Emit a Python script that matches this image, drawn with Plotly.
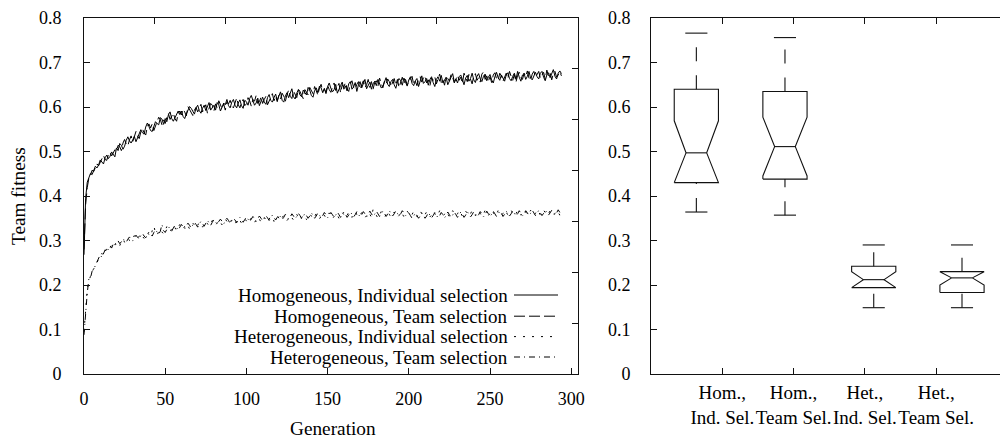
import plotly.graph_objects as go

# ---------------- data ----------------
generations = list(range(0, 295))

hom_ind = [
    0.268, 0.395, 0.431, 0.442, 0.451, 0.448, 0.460, 0.467, 0.463, 0.470,
    0.481, 0.476, 0.472, 0.486, 0.492, 0.484, 0.489, 0.499, 0.494, 0.488,
    0.508, 0.502, 0.518, 0.514, 0.505, 0.512, 0.525, 0.533, 0.524, 0.519,
    0.526, 0.534, 0.522, 0.532, 0.543, 0.549, 0.542, 0.539, 0.555, 0.564,
    0.556, 0.547, 0.545, 0.557, 0.567, 0.563, 0.560, 0.576, 0.573, 0.561,
    0.574, 0.567, 0.583, 0.589, 0.574, 0.568, 0.575, 0.585, 0.591, 0.583,
    0.591, 0.579, 0.574, 0.584, 0.592, 0.601, 0.597, 0.589, 0.584, 0.598,
    0.604, 0.592, 0.586, 0.597, 0.604, 0.592, 0.600, 0.610, 0.593, 0.599,
    0.604, 0.593, 0.610, 0.605, 0.591, 0.599, 0.609, 0.605, 0.617, 0.603,
    0.598, 0.611, 0.617, 0.604, 0.598, 0.609, 0.616, 0.603, 0.597, 0.615,
    0.612, 0.604, 0.619, 0.626, 0.613, 0.604, 0.609, 0.620, 0.603, 0.615,
    0.622, 0.611, 0.606, 0.621, 0.628, 0.615, 0.611, 0.621, 0.629, 0.615,
    0.624, 0.634, 0.615, 0.611, 0.625, 0.632, 0.621, 0.631, 0.641, 0.623,
    0.618, 0.631, 0.639, 0.627, 0.623, 0.638, 0.632, 0.627, 0.644, 0.638,
    0.626, 0.622, 0.637, 0.643, 0.632, 0.647, 0.643, 0.632, 0.642, 0.630,
    0.646, 0.654, 0.642, 0.634, 0.639, 0.651, 0.631, 0.641, 0.648, 0.656,
    0.640, 0.647, 0.636, 0.652, 0.657, 0.640, 0.645, 0.655, 0.635, 0.650,
    0.657, 0.643, 0.653, 0.662, 0.641, 0.648, 0.656, 0.640, 0.652, 0.658,
    0.648, 0.662, 0.653, 0.643, 0.646, 0.657, 0.666, 0.651, 0.646, 0.657,
    0.662, 0.650, 0.642, 0.656, 0.664, 0.659, 0.649, 0.665, 0.654, 0.647,
    0.661, 0.668, 0.653, 0.648, 0.659, 0.664, 0.646, 0.658, 0.670, 0.653,
    0.657, 0.664, 0.649, 0.662, 0.668, 0.655, 0.646, 0.662, 0.668, 0.658,
    0.671, 0.654, 0.662, 0.667, 0.650, 0.658, 0.666, 0.675, 0.657, 0.663,
    0.654, 0.668, 0.672, 0.660, 0.650, 0.665, 0.671, 0.658, 0.664, 0.676,
    0.661, 0.655, 0.669, 0.675, 0.663, 0.657, 0.669, 0.674, 0.659, 0.667,
    0.673, 0.661, 0.654, 0.668, 0.678, 0.666, 0.660, 0.672, 0.665, 0.658,
    0.672, 0.677, 0.664, 0.659, 0.669, 0.676, 0.662, 0.680, 0.667, 0.658,
    0.672, 0.675, 0.662, 0.669, 0.680, 0.665, 0.661, 0.672, 0.678, 0.668,
    0.663, 0.676, 0.680, 0.667, 0.659, 0.672, 0.677, 0.666, 0.675, 0.684,
    0.669, 0.663, 0.676, 0.681, 0.675,
]

hom_team = [
    0.280, 0.380, 0.419, 0.440, 0.447, 0.458, 0.455, 0.464, 0.472, 0.468,
    0.477, 0.485, 0.491, 0.482, 0.480, 0.493, 0.498, 0.490, 0.496, 0.504,
    0.501, 0.514, 0.511, 0.502, 0.519, 0.527, 0.517, 0.513, 0.526, 0.535,
    0.522, 0.532, 0.545, 0.534, 0.529, 0.544, 0.551, 0.542, 0.537, 0.556,
    0.562, 0.553, 0.562, 0.547, 0.556, 0.565, 0.577, 0.572, 0.560, 0.571,
    0.563, 0.577, 0.585, 0.572, 0.578, 0.586, 0.574, 0.568, 0.585, 0.591,
    0.582, 0.595, 0.589, 0.580, 0.601, 0.595, 0.586, 0.581, 0.593, 0.599,
    0.589, 0.598, 0.606, 0.589, 0.596, 0.605, 0.586, 0.600, 0.608, 0.604,
    0.591, 0.607, 0.598, 0.614, 0.603, 0.596, 0.607, 0.593, 0.611, 0.607,
    0.615, 0.602, 0.598, 0.612, 0.620, 0.605, 0.598, 0.611, 0.617, 0.603,
    0.607, 0.621, 0.614, 0.602, 0.617, 0.613, 0.626, 0.608, 0.612, 0.622,
    0.608, 0.617, 0.624, 0.605, 0.613, 0.624, 0.630, 0.614, 0.624, 0.612,
    0.627, 0.618, 0.631, 0.624, 0.613, 0.628, 0.638, 0.624, 0.619, 0.636,
    0.630, 0.621, 0.640, 0.635, 0.626, 0.619, 0.639, 0.633, 0.627, 0.644,
    0.638, 0.630, 0.646, 0.634, 0.627, 0.643, 0.651, 0.635, 0.640, 0.633,
    0.649, 0.639, 0.633, 0.645, 0.654, 0.637, 0.644, 0.653, 0.632, 0.650,
    0.645, 0.655, 0.641, 0.635, 0.652, 0.659, 0.644, 0.640, 0.651, 0.657,
    0.640, 0.651, 0.659, 0.644, 0.650, 0.662, 0.644, 0.657, 0.640, 0.655,
    0.659, 0.647, 0.665, 0.654, 0.643, 0.658, 0.651, 0.663, 0.657, 0.646,
    0.655, 0.664, 0.649, 0.662, 0.644, 0.658, 0.667, 0.653, 0.662, 0.650,
    0.653, 0.664, 0.669, 0.651, 0.658, 0.648, 0.662, 0.668, 0.656, 0.665,
    0.670, 0.654, 0.661, 0.648, 0.665, 0.660, 0.668, 0.652, 0.664, 0.674,
    0.655, 0.662, 0.649, 0.668, 0.664, 0.658, 0.673, 0.667, 0.654, 0.663,
    0.671, 0.660, 0.667, 0.653, 0.676, 0.666, 0.657, 0.673, 0.663, 0.652,
    0.670, 0.675, 0.660, 0.666, 0.656, 0.674, 0.679, 0.662, 0.670, 0.658,
    0.668, 0.655, 0.672, 0.677, 0.664, 0.660, 0.676, 0.670, 0.658, 0.668,
    0.676, 0.664, 0.680, 0.669, 0.660, 0.673, 0.656, 0.671, 0.678, 0.667,
    0.662, 0.676, 0.669, 0.681, 0.665, 0.660, 0.674, 0.680, 0.668, 0.673,
    0.680, 0.665, 0.672, 0.678, 0.662, 0.683, 0.670, 0.677, 0.661, 0.675,
    0.680, 0.667, 0.672, 0.679, 0.670,
]

het_ind = [
    0.095, 0.152, 0.190, 0.208, 0.219, 0.232, 0.236, 0.247, 0.251, 0.259,
    0.263, 0.271, 0.266, 0.275, 0.282, 0.277, 0.285, 0.290, 0.284, 0.291,
    0.297, 0.292, 0.288, 0.298, 0.303, 0.296, 0.301, 0.306, 0.300, 0.297,
    0.305, 0.311, 0.307, 0.302, 0.310, 0.316, 0.309, 0.305, 0.314, 0.318,
    0.313, 0.309, 0.322, 0.333, 0.317, 0.312, 0.320, 0.326, 0.319, 0.315,
    0.324, 0.331, 0.325, 0.319, 0.327, 0.334, 0.329, 0.322, 0.330, 0.336,
    0.330, 0.325, 0.332, 0.338, 0.333, 0.326, 0.331, 0.339, 0.335, 0.328,
    0.334, 0.341, 0.336, 0.330, 0.337, 0.343, 0.338, 0.332, 0.339, 0.345,
    0.340, 0.334, 0.339, 0.346, 0.341, 0.335, 0.342, 0.348, 0.343, 0.336,
    0.341, 0.347, 0.342, 0.337, 0.344, 0.350, 0.345, 0.339, 0.343, 0.349,
    0.344, 0.338, 0.345, 0.351, 0.346, 0.340, 0.347, 0.353, 0.348, 0.341,
    0.346, 0.352, 0.347, 0.341, 0.348, 0.355, 0.349, 0.343, 0.350, 0.356,
    0.350, 0.344, 0.351, 0.357, 0.352, 0.345, 0.349, 0.356, 0.351, 0.346,
    0.353, 0.359, 0.352, 0.346, 0.351, 0.358, 0.354, 0.347, 0.352, 0.360,
    0.355, 0.348, 0.353, 0.361, 0.356, 0.349, 0.354, 0.362, 0.357, 0.350,
    0.355, 0.362, 0.356, 0.349, 0.354, 0.361, 0.357, 0.350, 0.355, 0.363,
    0.358, 0.351, 0.356, 0.364, 0.359, 0.352, 0.357, 0.365, 0.358, 0.352,
    0.357, 0.363, 0.358, 0.351, 0.356, 0.364, 0.359, 0.352, 0.370, 0.362,
    0.356, 0.350, 0.357, 0.365, 0.360, 0.353, 0.358, 0.366, 0.359, 0.352,
    0.357, 0.364, 0.359, 0.352, 0.356, 0.365, 0.360, 0.353, 0.358, 0.366,
    0.361, 0.354, 0.358, 0.366, 0.361, 0.354, 0.359, 0.367, 0.360, 0.353,
    0.358, 0.365, 0.360, 0.353, 0.357, 0.366, 0.361, 0.354, 0.359, 0.367,
    0.362, 0.355, 0.359, 0.366, 0.360, 0.353, 0.358, 0.367, 0.362, 0.355,
    0.360, 0.368, 0.362, 0.354, 0.358, 0.366, 0.361, 0.355, 0.360, 0.368,
    0.363, 0.356, 0.360, 0.367, 0.361, 0.354, 0.359, 0.368, 0.363, 0.356,
    0.361, 0.369, 0.363, 0.355, 0.359, 0.367, 0.362, 0.356, 0.361, 0.369,
    0.364, 0.357, 0.361, 0.368, 0.362, 0.355, 0.360, 0.368, 0.363, 0.357,
    0.362, 0.369, 0.364, 0.357, 0.361, 0.368, 0.362, 0.356, 0.361, 0.369,
    0.364, 0.357, 0.361, 0.368, 0.363, 0.356, 0.360, 0.367, 0.362, 0.357,
    0.361, 0.368, 0.363, 0.357, 0.362,
]

het_team = [
    0.088, 0.138, 0.182, 0.214, 0.216, 0.231, 0.235, 0.244, 0.252, 0.256,
    0.268, 0.262, 0.272, 0.279, 0.274, 0.281, 0.288, 0.283, 0.292, 0.288,
    0.294, 0.299, 0.293, 0.297, 0.304, 0.300, 0.296, 0.303, 0.308, 0.302,
    0.299, 0.306, 0.312, 0.307, 0.303, 0.311, 0.316, 0.310, 0.306, 0.313,
    0.319, 0.314, 0.310, 0.318, 0.324, 0.319, 0.314, 0.321, 0.336, 0.322,
    0.318, 0.325, 0.331, 0.326, 0.321, 0.328, 0.334, 0.329, 0.323, 0.330,
    0.336, 0.331, 0.326, 0.333, 0.339, 0.334, 0.328, 0.335, 0.341, 0.336,
    0.330, 0.337, 0.343, 0.338, 0.332, 0.339, 0.345, 0.340, 0.334, 0.341,
    0.347, 0.342, 0.336, 0.343, 0.348, 0.343, 0.337, 0.344, 0.350, 0.345,
    0.338, 0.344, 0.350, 0.346, 0.340, 0.346, 0.352, 0.347, 0.341, 0.347,
    0.353, 0.348, 0.342, 0.348, 0.354, 0.349, 0.343, 0.349, 0.355, 0.350,
    0.344, 0.350, 0.356, 0.351, 0.345, 0.351, 0.357, 0.352, 0.346, 0.352,
    0.358, 0.353, 0.347, 0.352, 0.359, 0.354, 0.348, 0.353, 0.360, 0.355,
    0.349, 0.354, 0.361, 0.356, 0.349, 0.354, 0.361, 0.356, 0.350, 0.355,
    0.362, 0.357, 0.350, 0.355, 0.362, 0.357, 0.351, 0.356, 0.363, 0.358,
    0.351, 0.356, 0.363, 0.358, 0.352, 0.357, 0.364, 0.358, 0.352, 0.357,
    0.364, 0.359, 0.352, 0.357, 0.364, 0.359, 0.353, 0.358, 0.365, 0.359,
    0.353, 0.358, 0.365, 0.360, 0.353, 0.358, 0.366, 0.360, 0.354, 0.359,
    0.366, 0.360, 0.354, 0.359, 0.366, 0.361, 0.354, 0.359, 0.367, 0.361,
    0.355, 0.360, 0.367, 0.361, 0.355, 0.360, 0.367, 0.362, 0.355, 0.360,
    0.362, 0.356, 0.350, 0.355, 0.362, 0.356, 0.350, 0.355, 0.362, 0.357,
    0.350, 0.355, 0.363, 0.357, 0.351, 0.356, 0.363, 0.357, 0.351, 0.356,
    0.363, 0.358, 0.351, 0.356, 0.364, 0.358, 0.352, 0.357, 0.364, 0.358,
    0.352, 0.357, 0.364, 0.359, 0.352, 0.357, 0.365, 0.359, 0.353, 0.358,
    0.365, 0.359, 0.353, 0.358, 0.365, 0.360, 0.353, 0.358, 0.366, 0.360,
    0.354, 0.359, 0.366, 0.360, 0.354, 0.359, 0.366, 0.361, 0.354, 0.359,
    0.366, 0.361, 0.355, 0.360, 0.367, 0.361, 0.355, 0.360, 0.367, 0.361,
    0.355, 0.360, 0.367, 0.362, 0.356, 0.361, 0.368, 0.362, 0.356, 0.361,
    0.368, 0.362, 0.356, 0.361, 0.368, 0.363, 0.357, 0.362, 0.368, 0.363,
    0.357, 0.362, 0.369, 0.363, 0.358,
]

series_names = [
    "Homogeneous, Individual selection",
    "Homogeneous, Team selection",
    "Heterogeneous, Individual selection",
    "Heterogeneous, Team selection",
]
series_values = [hom_ind, hom_team, het_ind, het_team]

# box plot statistics (final team fitness)
box_labels = ["Hom.,<br>Ind. Sel.", "Hom.,<br>Team Sel.",
              "Het.,<br>Ind. Sel.", "Het.,<br>Team Sel."]
box_label_pos = [1, 2, 3, 4]
box_pos = [0.636, 1.879, 3.124, 4.362]
box_lo = [0.364, 0.357, 0.149, 0.149]
box_q1 = [0.430, 0.438, 0.194, 0.183]
box_med = [0.497, 0.511, 0.212, 0.216]
box_q3 = [0.640, 0.635, 0.242, 0.230]
box_hi = [0.766, 0.756, 0.290, 0.290]
box_notch = [0.072, 0.066, 0.018, 0.016]

# ---------------- styling ----------------
FONT = "Liberation Serif"
FS_TICK = 18
FS_TEXT = 19.3
INK = "#111111"
dashes = ["solid", "11px,4px", "2px,7px", "6px,4px,1px,4px"]

fig = go.Figure()

for name, vals, dsh in zip(series_names, series_values, dashes):
    fig.add_trace(go.Scatter(
        x=generations, y=vals, mode="lines", name=name,
        line=dict(color="black", width=1, dash=dsh),
        xaxis="x", yaxis="y", showlegend=False,
    ))

# invisible trace for the secondary tick axes of the left panel
fig.add_trace(go.Scatter(x=[None], y=[None], xaxis="x3", yaxis="y3",
                         showlegend=False, hoverinfo="skip"))

# box plots (notched, clipped to the box, dashed whiskers)
W = 0.31      # half box width (x units)
INSET = 0.165 # notch inset
CAP = 0.155   # half cap width
for c, lo, q1, med, q3, hi, nt in zip(box_pos, box_lo, box_q1, box_med,
                                      box_q3, box_hi, box_notch):
    nlo = max(q1, med - nt)
    nhi = min(q3, med + nt)
    xs = [c - W, c + W, c + W, c + W - INSET, c + W, c + W, c - W, c - W,
          c - W + INSET, c - W, c - W]
    ys = [q1, q1, nlo, med, nhi, q3, q3, nhi, med, nlo, q1]
    fig.add_trace(go.Scatter(x=xs, y=ys, mode="lines", xaxis="x2", yaxis="y2",
                             line=dict(color=INK, width=1.1), showlegend=False))
    fig.add_trace(go.Scatter(x=[c - W + INSET, c + W - INSET], y=[med, med],
                             mode="lines", xaxis="x2", yaxis="y2",
                             line=dict(color=INK, width=1.1), showlegend=False))
    # whiskers (dashed), drawn upward
    fig.add_trace(go.Scatter(x=[c, c], y=[q3, hi], mode="lines", xaxis="x2",
                             yaxis="y2", showlegend=False,
                             line=dict(color=INK, width=1.1, dash="14px,14px")))
    fig.add_trace(go.Scatter(x=[c, c], y=[lo, q1], mode="lines", xaxis="x2",
                             yaxis="y2", showlegend=False,
                             line=dict(color=INK, width=1.1, dash="14px,14px")))
    # caps
    for v in (hi, lo):
        fig.add_trace(go.Scatter(x=[c - CAP, c + CAP], y=[v, v], mode="lines",
                                 xaxis="x2", yaxis="y2", showlegend=False,
                                 line=dict(color=INK, width=1.1)))

axis_common = dict(
    showgrid=False, zeroline=False, showline=True, linecolor=INK, linewidth=1,
    ticks="inside", ticklen=6, tickcolor=INK, tickwidth=1, automargin=False,
    tickfont=dict(family=FONT, size=FS_TICK, color="black"),
)

L0, L1 = 0.084, 0.5777
R0, R1 = 0.651, 1.0

fig.update_layout(
    width=1000, height=439,
    margin=dict(l=0, r=0, t=18, b=65, pad=0),
    paper_bgcolor="white", plot_bgcolor="white",
    font=dict(family=FONT, size=FS_TEXT, color="black"),
    showlegend=False,
    xaxis=dict(axis_common, domain=[L0, L1], range=[0, 304],
               tickvals=[0, 50, 100, 150, 200, 250, 300], mirror=True,
               anchor="y", ticklabelstandoff=8),
    yaxis=dict(axis_common, domain=[0, 1], range=[0, 0.8], dtick=0.1,
               mirror=True, anchor="x", ticklabelstandoff=18),
    xaxis3=dict(overlaying="x", side="top", range=[0, 7], dtick=1,
                showgrid=False, zeroline=False, showline=False,
                ticks="inside", ticklen=6, tickcolor=INK, automargin=False,
                showticklabels=False, anchor="y"),
    yaxis3=dict(overlaying="y", side="right", range=[0, 7], dtick=1,
                showgrid=False, zeroline=False, showline=False,
                ticks="inside", ticklen=6, tickcolor=INK, automargin=False,
                showticklabels=False, anchor="x"),
    xaxis2=dict(axis_common, domain=[R0, R1], range=[0, 4.895],
                tickvals=box_label_pos, ticktext=box_labels, tickangle=0,
                tickfont=dict(family=FONT, size=19, color="black"),
                mirror="ticks", anchor="y2", ticklabelstandoff=1),
    yaxis2=dict(axis_common, domain=[0, 1], range=[0, 0.8], dtick=0.1,
                mirror=False, anchor="x2", ticklabelstandoff=16),
)

annotations = [
    dict(text="Team fitness", x=0.018, y=0.5, xref="paper", yref="paper",
         textangle=-90, showarrow=False, xanchor="center", yanchor="middle",
         font=dict(family=FONT, size=FS_TEXT)),
    dict(text="Generation", x=0.333, y=-0.152, xref="paper", yref="paper",
         showarrow=False, xanchor="center", yanchor="middle",
         font=dict(family=FONT, size=FS_TEXT)),
]

# legend (text right-aligned, sample to the right) inside left panel
legend_rows_px = [295.0, 316.2, 336.6, 357.0]
shapes = []
for name, dsh, ypx in zip(series_names, dashes, legend_rows_px):
    yp = (374 - ypx) / 356
    annotations.append(dict(text=name, x=0.510, y=yp, xref="paper", yref="paper",
                            showarrow=False, xanchor="right", yanchor="middle",
                            font=dict(family=FONT, size=19)))
    shapes.append(dict(type="line", xref="paper", yref="paper",
                       x0=0.514, x1=0.558, y0=yp, y1=yp,
                       line=dict(color="black", width=1, dash=dsh)))

fig.update_layout(annotations=annotations, shapes=shapes)

fig.write_html("out.html")
